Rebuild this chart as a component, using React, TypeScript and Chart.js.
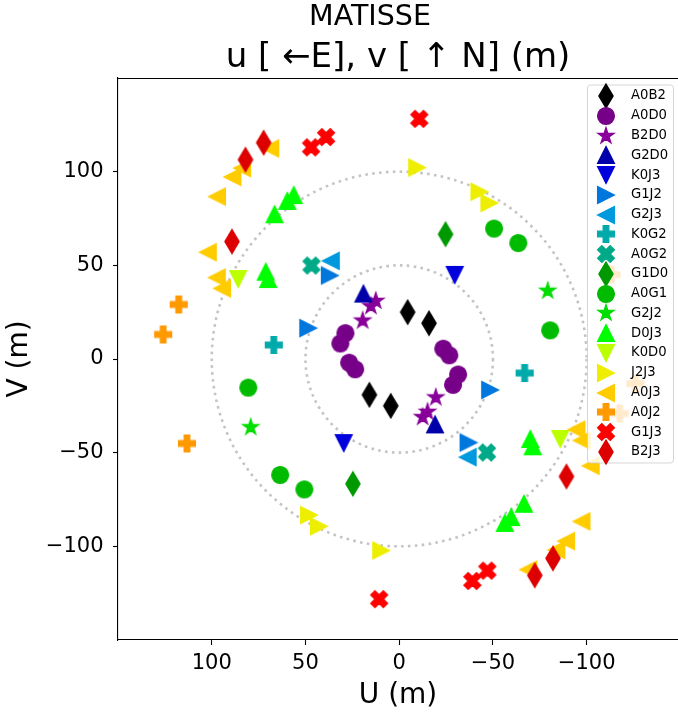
import { useEffect, useRef } from 'react';
import { Chart, registerables } from 'chart.js';

Chart.register(...registerables);

const FONT = "'DejaVu Sans', 'Liberation Sans', sans-serif";

const MAIN_TITLE = 'MATISSE';
const SUB_TITLE = 'u [ \u2190E], v [ \u2191 N] (m)';
const X_LABEL = 'U (m)';
const Y_LABEL = 'V (m)';

const BASELINES = ['A0B2', 'A0D0', 'B2D0', 'G2D0', 'K0J3', 'G1J2', 'G2J3', 'K0G2', 'A0G2', 'G1D0', 'A0G1', 'G2J2', 'D0J3', 'K0D0', 'J2J3', 'A0J3', 'A0J2', 'G1J3', 'B2J3'];
const COLORS = ['#000000', '#770088', '#880099', '#0000aa', '#0000dd', '#0077dd', '#0099dd', '#00aaaa', '#00aa88', '#009900', '#00bb00', '#00dd00', '#00ff00', '#bbff00', '#eeee00', '#ffcc00', '#ff9900', '#ff0000', '#dd0000'];
const MARKERS = ['d', 'o', '*', '^', 'v', '>', '<', 'P', 'X', 'd', 'o', '*', '^', 'v', '>', '<', 'P', 'X', 'd'];

// u (m), v (m) per baseline
const A0B2_U = [-4.5, -15.9, 4.5, 15.9];
const A0B2_V = [25.0, 19.1, -25.0, -19.1];
const A0D0_U = [-23.5, -26.7, -31.4, -28.7, 23.5, 26.7, 31.4, 28.7];
const A0D0_V = [5.5, 2.0, -8.3, -13.8, -5.5, -2.0, 8.3, 13.8];
const B2D0_U = [12.5, 15.1, 19.5, -12.5, -15.1, -19.5];
const B2D0_V = [31.0, 28.2, 20.5, -31.0, -28.2, -20.5];
const G2D0_U = [19.1, -19.1];
const G2D0_V = [34.9, -34.9];
const K0J3_U = [-29.6, 29.6];
const K0J3_V = [44.9, -44.9];
const G1J2_U = [37.0, 48.5, -37.0, -48.5];
const G1J2_V = [44.6, 16.5, -44.6, -16.5];
const G2J3_U = [36.5, -36.5];
const G2J3_V = [52.4, -52.4];
const K0G2_U = [66.9, -66.9];
const K0G2_V = [7.5, -7.5];
const A0G2_U = [46.8, -46.8];
const A0G2_V = [49.9, -49.9];
const G1D0_U = [-24.7, 24.7];
const G1D0_V = [66.6, -66.6];
const A0G1_U = [-50.6, -63.5, -80.5, 50.6, 63.5, 80.5];
const A0G1_V = [69.6, 61.9, 15.3, -69.6, -61.9, -15.3];
const G2J2_U = [-79.2, 79.2];
const G2J2_V = [36.4, -36.4];
const D0J3_U = [56.3, 59.7, 66.5, 71.2, 69.9, -56.3, -59.7, -66.5, -71.2, -69.9];
const D0J3_V = [87.5, 84.4, 77.3, 46.6, 42.7, -87.5, -84.4, -77.3, -46.6, -42.7];
const K0D0_U = [85.9, -85.9];
const K0D0_V = [42.7, -42.7];
const J2J3_U = [-9.6, -42.8, -48.1, 9.6, 42.8, 48.1];
const J2J3_V = [102.2, 89.3, 83.3, -102.2, -89.3, -83.3];
const A0J3_U = [68.8, 83.8, 89.0, 97.2, 102.1, 97.3, 94.5, -68.8, -83.8, -89.0, -97.2, -102.1, -97.3, -94.5];
const A0J3_V = [112.4, 101.9, 97.2, 86.7, 57.0, 43.5, 37.7, -112.4, -101.9, -97.2, -86.7, -57.0, -43.5, -37.7];
const A0J2_U = [117.6, 125.9, 113.2, -117.6, -125.9, -113.2];
const A0J2_V = [29.1, 13.1, -45.1, -29.1, -13.1, 45.1];
const G1J3_U = [47.0, 39.0, -10.7, -47.0, -39.0, 10.7];
const G1J3_V = [113.0, 118.5, 128.2, -113.0, -118.5, -128.2];
const B2J3_U = [72.3, 82.0, 89.2, -72.3, -82.0, -89.2];
const B2J3_V = [115.5, 106.4, 62.7, -115.5, -106.4, -62.7];

const U_SERIES = [A0B2_U, A0D0_U, B2D0_U, G2D0_U, K0J3_U, G1J2_U, G2J3_U, K0G2_U, A0G2_U, G1D0_U, A0G1_U, G2J2_U, D0J3_U, K0D0_U, J2J3_U, A0J3_U, A0J2_U, G1J3_U, B2J3_U];
const V_SERIES = [A0B2_V, A0D0_V, B2D0_V, G2D0_V, K0J3_V, G1J2_V, G2J3_V, K0G2_V, A0G2_V, G1D0_V, A0G1_V, G2J2_V, D0J3_V, K0D0_V, J2J3_V, A0J3_V, A0J2_V, G1J3_V, B2J3_V];

const X_TICKS = [100, 50, 0, -50, -100];
const Y_TICKS = [100, 50, 0, -50, -100];
const CIRCLE_RADII = [50, 100];

const MARKER_SIZE = 16.8;
const MARKER_EDGE = 1.3;

function shapePoints(kind: string): Array<[number, number]> {
  switch (kind) {
    case 'd':
      return [[0, -0.7071], [0.4243, 0], [0, 0.7071], [-0.4243, 0]];
    case '^':
      return [[0, -0.5], [0.5, 0.5], [-0.5, 0.5]];
    case 'v':
      return [[0, 0.5], [0.5, -0.5], [-0.5, -0.5]];
    case '>':
      return [[0.5, 0], [-0.5, -0.5], [-0.5, 0.5]];
    case '<':
      return [[-0.5, 0], [0.5, -0.5], [0.5, 0.5]];
    case 'P':
      return ([[-1, -3], [1, -3], [1, -1], [3, -1], [3, 1], [1, 1], [1, 3], [-1, 3], [-1, 1], [-3, 1], [-3, -1], [-1, -1]] as Array<[number, number]>).map(([x, y]) => [x / 6, y / 6] as [number, number]);
    case 'X':
      return ([[-1, -2], [0, -1], [1, -2], [2, -1], [1, 0], [2, 1], [1, 2], [0, 1], [-1, 2], [-2, 1], [-1, 0], [-2, -1]] as Array<[number, number]>).map(([x, y]) => [x / 4, y / 4] as [number, number]);
    case '*': {
      const pts: Array<[number, number]> = [];
      for (let k = 0; k < 10; k++) {
        const r = k % 2 === 0 ? 0.5 : 0.5 * 0.381966;
        const a = -Math.PI / 2 + (k * Math.PI) / 5;
        pts.push([r * Math.cos(a), r * Math.sin(a)]);
      }
      return pts;
    }
    default:
      return [];
  }
}

function makeMarker(kind: string, color: string): HTMLCanvasElement {
  const size = 34;
  const c = document.createElement('canvas');
  c.width = size;
  c.height = size;
  const ctx = c.getContext('2d') as CanvasRenderingContext2D;
  ctx.translate(size / 2, size / 2);
  ctx.beginPath();
  if (kind === 'o') {
    ctx.arc(0, 0, MARKER_SIZE / 2, 0, Math.PI * 2);
  } else {
    shapePoints(kind).forEach(([x, y], i) => {
      if (i === 0) ctx.moveTo(x * MARKER_SIZE, y * MARKER_SIZE);
      else ctx.lineTo(x * MARKER_SIZE, y * MARKER_SIZE);
    });
    ctx.closePath();
  }
  ctx.fillStyle = color;
  ctx.fill();
  ctx.lineWidth = MARKER_EDGE;
  ctx.strokeStyle = color;
  ctx.lineJoin = 'miter';
  ctx.stroke();
  return c;
}

const fmtTick = (v: number | string) => {
  const n = Number(v);
  return n < 0 ? '\u2212' + Math.abs(n) : String(n);
};

export default function App() {
  const ref = useRef<HTMLCanvasElement>(null);

  useEffect(() => {
    if (!ref.current) return;
    const markers = BASELINES.map((_, i) => makeMarker(MARKERS[i], COLORS[i]));

    const circlesPlugin = {
      id: 'uvCircles',
      beforeDatasetsDraw(chart: any) {
        const { ctx, chartArea } = chart;
        const xs = chart.scales.x;
        const ys = chart.scales.y;
        const cx = xs.getPixelForValue(0);
        const cy = ys.getPixelForValue(0);
        ctx.save();
        ctx.beginPath();
        ctx.rect(chartArea.left, chartArea.top, chartArea.right - chartArea.left, chartArea.bottom - chartArea.top);
        ctx.clip();
        ctx.strokeStyle = '#c4c4c4';
        ctx.lineWidth = 2.6;
        ctx.setLineDash([2.6, 4.3]);
        ctx.lineCap = 'butt';
        CIRCLE_RADII.forEach((r) => {
          const rx = Math.abs(xs.getPixelForValue(r) - cx);
          const ry = Math.abs(ys.getPixelForValue(r) - cy);
          ctx.beginPath();
          ctx.ellipse(cx, cy, rx, ry, 0, 0, Math.PI * 2);
          ctx.stroke();
        });
        ctx.restore();
      },
    };

    const decorPlugin = {
      id: 'uvDecor',
      afterDraw(chart: any) {
        const { ctx, chartArea } = chart;
        ctx.save();
        // top spine
        ctx.strokeStyle = '#000';
        ctx.lineWidth = 1.1;
        ctx.beginPath();
        ctx.moveTo(chartArea.left, Math.round(chartArea.top) + 0.5);
        ctx.lineTo(chartArea.right, Math.round(chartArea.top) + 0.5);
        ctx.stroke();

        // main title
        ctx.fillStyle = '#000';
        ctx.font = `28.5px ${FONT}`;
        ctx.textAlign = 'center';
        ctx.textBaseline = 'middle';
        ctx.fillText(MAIN_TITLE, 370, 17.5);

        // legend
        const x0 = 587.5;
        const y0 = 85;
        const w = 86;
        const h = 378;
        const rad = 3;
        ctx.beginPath();
        ctx.moveTo(x0 + rad, y0);
        ctx.lineTo(x0 + w - rad, y0);
        ctx.arcTo(x0 + w, y0, x0 + w, y0 + rad, rad);
        ctx.lineTo(x0 + w, y0 + h - rad);
        ctx.arcTo(x0 + w, y0 + h, x0 + w - rad, y0 + h, rad);
        ctx.lineTo(x0 + rad, y0 + h);
        ctx.arcTo(x0, y0 + h, x0, y0 + h - rad, rad);
        ctx.lineTo(x0, y0 + rad);
        ctx.arcTo(x0, y0, x0 + rad, y0, rad);
        ctx.closePath();
        ctx.fillStyle = 'rgba(255,255,255,0.8)';
        ctx.fill();
        ctx.lineWidth = 1;
        ctx.strokeStyle = 'rgba(204,204,204,0.8)';
        ctx.stroke();

        ctx.font = `13.2px ${FONT}`;
        ctx.textAlign = 'left';
        ctx.textBaseline = 'middle';
        ctx.fillStyle = '#000';
        BASELINES.forEach((name, i) => {
          const y = y0 + 11 + i * 19.77;
          const m = markers[i];
          ctx.drawImage(m, Math.round(x0 + 18.5 - m.width / 2), Math.round(y - m.height / 2));
          ctx.fillText(name, x0 + 43.5, y);
        });
        ctx.restore();
      },
    };

    const chart = new Chart(ref.current, {
      type: 'scatter',
      data: {
        datasets: BASELINES.map((name, i) => ({
          label: name,
          data: U_SERIES[i].map((u, k) => ({ x: u, y: V_SERIES[i][k] })),
          pointStyle: markers[i] as any,
          pointRadius: 9,
          pointHoverRadius: 9,
          backgroundColor: COLORS[i],
          borderColor: COLORS[i],
          order: -i,
          showLine: false,
        })),
      },
      options: {
        animation: false,
        responsive: false,
        maintainAspectRatio: false,
        events: [],
        layout: { autoPadding: false, padding: { top: 36, left: 0, right: 0, bottom: 0 } },
        plugins: {
          legend: { display: false },
          tooltip: { enabled: false },
          title: {
            display: true,
            text: SUB_TITLE,
            fullSize: false,
            color: '#000',
            font: { family: FONT, size: 34, weight: 'normal', lineHeight: 1.1 },
            padding: { top: 3.3, bottom: 1.3 },
          },
        },
        scales: {
          x: {
            type: 'linear',
            reverse: true,
            min: -148.7,
            max: 150,
            afterFit: (scale: any) => {
              scale.height = 73;
            },
            afterBuildTicks: (scale: any) => {
              scale.ticks = X_TICKS.map((v) => ({ value: v }));
            },
            ticks: {
              callback: fmtTick,
              color: '#000',
              font: { family: FONT, size: 21 },
              padding: 6.4,
              maxRotation: 0,
              autoSkip: false,
            },
            grid: { display: true, drawOnChartArea: false, drawTicks: true, tickLength: 5, tickColor: '#000', tickWidth: 1.1 },
            border: { display: true, color: '#000', width: 1.1 },
            title: {
              display: true,
              text: X_LABEL,
              color: '#000',
              font: { family: FONT, size: 28, lineHeight: 1.2 },
              padding: { top: 0, bottom: 0.7 },
            },
          },
          y: {
            type: 'linear',
            min: -150,
            max: 150,
            afterFit: (scale: any) => {
              scale.width = 118;
            },
            afterBuildTicks: (scale: any) => {
              scale.ticks = Y_TICKS.map((v) => ({ value: v }));
            },
            ticks: {
              callback: fmtTick,
              color: '#000',
              font: { family: FONT, size: 21 },
              padding: 9.5,
              autoSkip: false,
            },
            grid: { display: true, drawOnChartArea: false, drawTicks: true, tickLength: 5, tickColor: '#000', tickWidth: 1.1 },
            border: { display: true, color: '#000', width: 1.1 },
            title: {
              display: true,
              text: Y_LABEL,
              color: '#000',
              font: { family: FONT, size: 28, lineHeight: 1.2 },
              padding: { top: 3.2, bottom: 0 },
            },
          },
        },
      },
      plugins: [circlesPlugin, decorPlugin],
    } as any);

    return () => chart.destroy();
  }, []);

  return (
    <div style={{ position: 'absolute', left: 0, top: 0, width: 678, height: 713, background: '#fff' }}>
      <canvas ref={ref} width={678} height={713} style={{ display: 'block', width: 678, height: 713 }} />
    </div>
  );
}
